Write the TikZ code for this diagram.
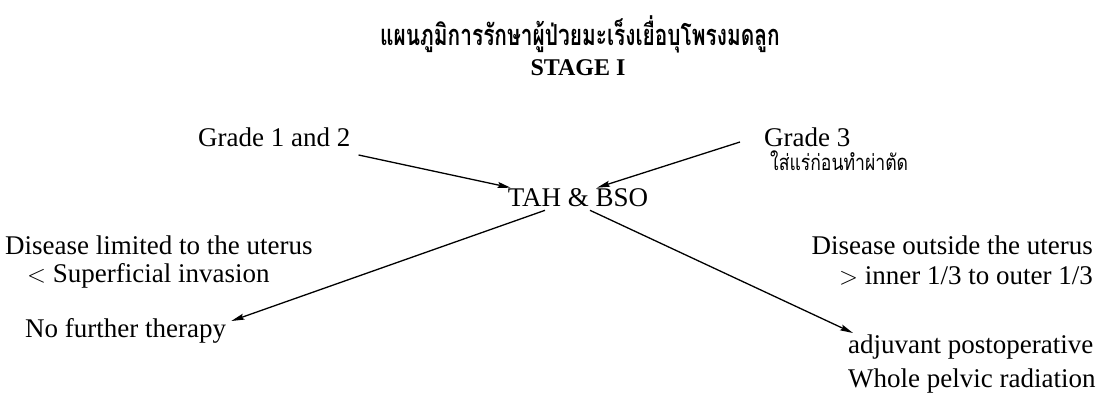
\documentclass[tikz,border=0pt]{standalone}
\usepackage{fontspec}
\setmainfont{Liberation Serif}
\newfontfamily\thaifont[Script=Thai,FakeStretch=0.8]{Loma}
\newfontfamily\thaititle[Script=Thai,FakeStretch=0.72]{Loma}
\usetikzlibrary{arrows.meta,calc}
\begin{document}
\begin{tikzpicture}[x=1pt,y=1pt,
  txt/.style={inner sep=0pt, font=\fontsize{27}{31}\selectfont},
  titlestyle/.style={inner sep=0pt, font=\thaititle\bfseries\fontsize{29}{33}\selectfont},
  stagestyle/.style={inner sep=0pt, font=\bfseries\fontsize{24}{28}\selectfont},
  thaitxt/.style={inner sep=0pt, font=\thaifont\fontsize{22}{26}\selectfont},
  arr/.style={-{Stealth[length=13pt,width=6pt,inset=2pt]}, line width=1.3pt}]
\useasboundingbox (0,0) rectangle (1101,-412);
\node[titlestyle] (title) at (580,-34) {แผนภูมิการรักษาผู้ป่วยมะเร็งเยื่อบุโพรงมดลูก};
\node[stagestyle] (stage) at (578,-68) {STAGE I};
\node[txt,anchor=west] (g12) at (198,-137) {Grade 1 and 2};
\node[txt,anchor=west] (g3) at (764,-137) {Grade 3};
\node[thaitxt,anchor=west] (pre) at (770,-161) {ใส่แร่ก่อนทำผ่าตัด};
\node[txt] (tah) at (578,-198) {TAH \& BSO};
\node[txt,anchor=west] (dl) at (5,-245) {Disease limited to the uterus};
\node[txt,anchor=west] (sup) at (27,-276) {$<$ Superficial invasion};
\node[txt,anchor=west] (nft) at (25,-331) {No further therapy};
\node[txt,anchor=east] (do) at (1093,-245) {Disease outside the uterus};
\node[txt,anchor=east] (inn) at (1093,-276) {$>$ inner 1/3 to outer 1/3};
\node[txt,anchor=west] (adj) at (848,-347) {adjuvant postoperative};
\node[txt,anchor=west] (wpr) at (848,-381) {Whole pelvic radiation};
\draw[arr] ($(g12.east)+(8,-18)$) -- ($(tah.north west)+(3,1)$);
\draw[arr] ($(g3.west)+(-24,-5)$) -- ($(tah.north)+(19,1)$);
\draw[arr] ($(tah.south)+(-33,-3)$) -- ($(nft.east)+(5,10)$);
\draw[arr] ($(tah.south)+(12,-3)$) -- ($(adj.west)+(5,14)$);
\end{tikzpicture}
\end{document}
